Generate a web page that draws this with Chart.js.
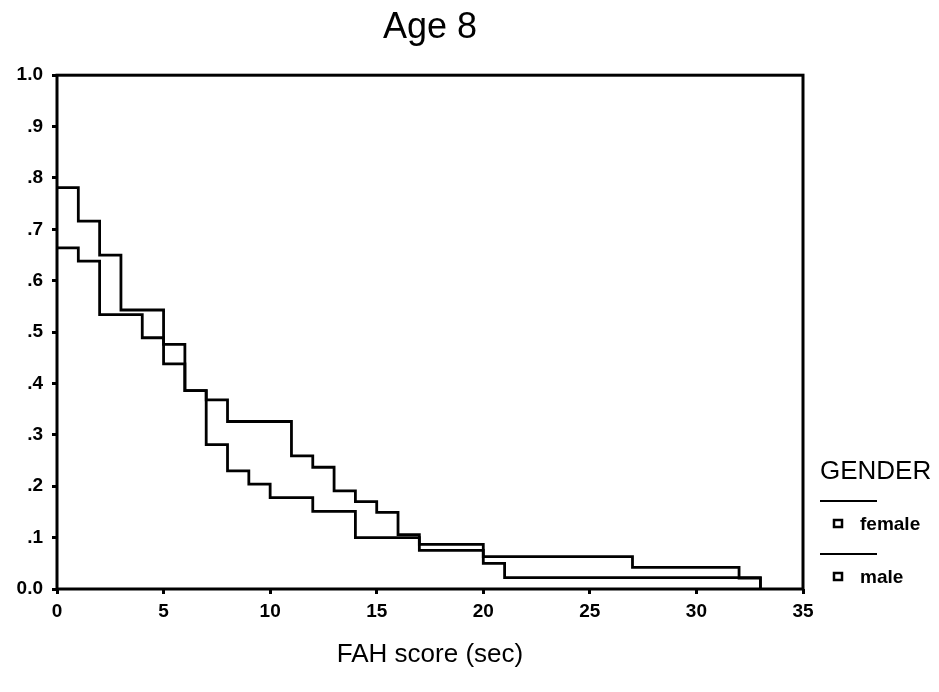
<!DOCTYPE html>
<html>
<head>
<meta charset="utf-8">
<title>Age 8</title>
<script src="https://cdn.jsdelivr.net/npm/chart.js@4.4.0/dist/chart.umd.min.js"></script>
<style>
  html, body { margin: 0; padding: 0; background: #fff; }
  #wrap { width: 939px; height: 692px; }
</style>
</head>
<body>
<div id="wrap"><canvas id="survival" width="939" height="692"></canvas></div>
<script>
// cumulative survival per gender, one value per event time (step curves)
var femaleTimes = [0, 1, 2, 3, 5, 6, 7, 8, 11, 12, 13, 14, 15, 16, 17, 20, 27, 32, 33];
var femaleSurvival = [0.781, 0.716, 0.650, 0.543, 0.476, 0.386, 0.368, 0.326, 0.259, 0.237, 0.191, 0.170, 0.149, 0.106, 0.087, 0.063, 0.042, 0.021, 0];
var maleTimes = [0, 1, 2, 4, 5, 6, 7, 8, 9, 10, 12, 14, 17, 20, 21, 33];
var maleSurvival = [0.664, 0.638, 0.534, 0.489, 0.438, 0.386, 0.281, 0.230, 0.204, 0.178, 0.151, 0.100, 0.075, 0.050, 0.022, 0];
var genders = ['female', 'male'];
var yTickLabels = ['0.0', '.1', '.2', '.3', '.4', '.5', '.6', '.7', '.8', '.9', '1.0'];
var xTickValues = [0, 5, 10, 15, 20, 25, 30, 35];

var FONT = '"Liberation Sans", Arial, Helvetica, sans-serif';

function toPoints(times, values) {
    return times.map(function(t, i) {
        return { x: t, y: values[i] };
    });
}

// box round the plot plus the legend on the right
var framePlugin = {
    id: 'frame',
    afterDatasetsDraw: function(chart) {
        var ctx = chart.ctx;
        var a = chart.chartArea;
        ctx.save();
        ctx.strokeStyle = '#000';
        ctx.lineWidth = 3;
        ctx.strokeRect(a.left, a.top, a.right - a.left, a.bottom - a.top);
        ctx.restore();
    },
    afterDraw: function(chart) {
        var ctx = chart.ctx;
        var lx = 820;
        ctx.save();
        ctx.fillStyle = '#000';
        ctx.textBaseline = 'middle';
        ctx.textAlign = 'left';
        ctx.font = '26px ' + FONT;
        ctx.fillText('GENDER', lx, 472);
        chart.data.datasets.forEach(function(ds, i) {
            var y = 501 + i * 53;
            ctx.strokeStyle = '#000';
            ctx.lineWidth = 2.2;
            ctx.beginPath();
            ctx.moveTo(lx, y);
            ctx.lineTo(lx + 57, y);
            ctx.stroke();
            ctx.lineWidth = 2.5;
            ctx.strokeRect(lx + 14, y + 19, 8, 7);
            ctx.font = 'bold 19px ' + FONT;
            ctx.fillText(ds.label, lx + 40, y + 24);
        });
        ctx.restore();
    }
};

var ctx = document.getElementById('survival').getContext('2d');
var chart = new Chart(ctx, {
    type: 'line',
    data: {
        datasets: [{
            label: genders[0],
            data: toPoints(femaleTimes, femaleSurvival),
            borderColor: '#000',
            borderWidth: 2.8,
            pointRadius: 0,
            stepped: true,
            fill: false
        }, {
            label: genders[1],
            data: toPoints(maleTimes, maleSurvival),
            borderColor: '#000',
            borderWidth: 2.8,
            pointRadius: 0,
            stepped: true,
            fill: false
        }]
    },
    options: {
        responsive: false,
        animation: false,
        layout: { padding: { top: 0, right: 136, bottom: 0, left: 0 } },
        plugins: {
            legend: { display: false },
            tooltip: { enabled: false },
            title: {
                display: true,
                fullSize: false,
                text: 'Age 8',
                color: '#000',
                font: { family: FONT, size: 36, weight: 'normal' },
                padding: { top: 6, bottom: 26 }
            }
        },
        scales: {
            x: {
                type: 'linear',
                min: 0,
                max: 35,
                afterFit: function(scale) { scale.height = 103; },
                afterBuildTicks: function(scale) {
                    scale.ticks = xTickValues.map(function(v) { return { value: v }; });
                },
                border: { display: false },
                grid: {
                    drawOnChartArea: false,
                    drawTicks: true,
                    tickLength: 5,
                    tickWidth: 3,
                    color: '#000'
                },
                ticks: {
                    color: '#000',
                    padding: 6,
                    maxRotation: 0,
                    font: { family: FONT, size: 19, weight: 'bold' }
                },
                title: {
                    display: true,
                    text: 'FAH score (sec)',
                    color: '#000',
                    font: { family: FONT, size: 26, weight: 'normal' },
                    padding: { top: 0, bottom: 22 }
                }
            },
            y: {
                type: 'linear',
                min: 0,
                max: 1,
                afterFit: function(scale) { scale.width = 57; },
                border: { display: false },
                grid: {
                    drawOnChartArea: false,
                    drawTicks: true,
                    tickLength: 5,
                    tickWidth: 3,
                    color: '#000'
                },
                ticks: {
                    stepSize: 0.1,
                    color: '#000',
                    padding: 9,
                    font: { family: FONT, size: 19, weight: 'bold' },
                    callback: function(value, index) { return yTickLabels[index]; }
                }
            }
        }
    },
    plugins: [framePlugin]
});
</script>
</body>
</html>
